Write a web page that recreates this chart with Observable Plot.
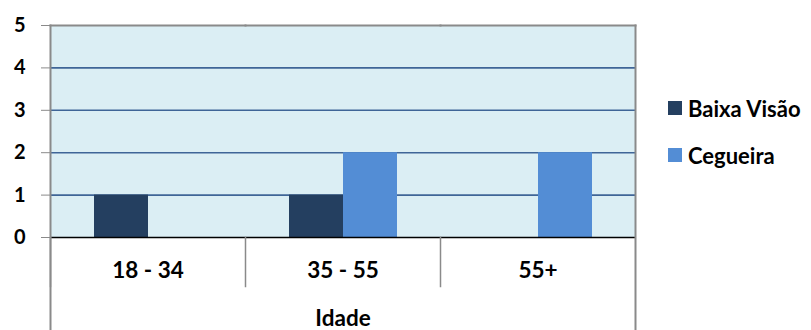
<!DOCTYPE html>
<html>
<head>
<meta charset="utf-8">
<script src="https://cdn.jsdelivr.net/npm/d3@7"></script>
<script src="https://cdn.jsdelivr.net/npm/@observablehq/plot@0.6"></script>
<style>
  html, body { margin: 0; padding: 0; background: #ffffff; }
  #wrap { position: relative; width: 811px; height: 330px; font-family: Lato, "Open Sans", sans-serif; }
  #legend { position: absolute; left: 668px; top: 96px; font-weight: 700; font-size: 22px; color: #000; }
  #legend .item { display: flex; align-items: center; height: 24px; margin-bottom: 23px; }
  #legend .sw { width: 14px; height: 14px; margin-right: 6px; }
</style>
</head>
<body>
<div id="wrap"><div id="legend"></div></div>
<script>
const groups = ["18 - 34", "35 - 55", "55+"];
const series = ["Baixa Visão", "Cegueira"];
const baixaVisao = [1, 1, 0];
const cegueira = [0, 2, 2];
const colors = ["#243F60", "#538DD5"];
const yTicks = [0, 1, 2, 3, 4, 5];
const axisTitle = "Idade";

const data = [];
groups.forEach((g, i) => {
  data.push({group: g, series: series[0], value: baixaVisao[i]});
  data.push({group: g, series: series[1], value: cegueira[i]});
});

const border = "#8A8A8A";
const chart = Plot.plot({
  width: 811,
  height: 330,
  marginLeft: 49,
  marginRight: 175,
  marginTop: 25,
  marginBottom: 93,
  style: {fontFamily: "Lato, 'Open Sans', sans-serif", background: "transparent"},
  fx: {domain: groups, padding: 0, label: null},
  x: {domain: series, paddingInner: 0, paddingOuter: 0.779, axis: null},
  y: {domain: [0, 5], label: null},
  color: {domain: series, range: colors},
  marks: [
    Plot.frame({fill: "#DBEEF4", stroke: null, shapeRendering: "crispEdges"}),
    Plot.ruleY([1, 2, 3, 4], {stroke: "#3F6597", strokeWidth: 1.6}),
    Plot.frame({anchor: "top", stroke: border, strokeWidth: 2}),
    Plot.barY(data, {filter: d => d.value > 0, fx: "group", x: "series", y: "value", fill: "series", insetLeft: 0, insetRight: 0}),
    Plot.ruleY([0], {stroke: "#000", strokeWidth: 1.5}),
    Plot.frame({anchor: "left", insetTop: 212, insetBottom: -49, stroke: border, strokeWidth: 1.5}),
    Plot.frame({anchor: "left", insetBottom: -93, stroke: border, strokeWidth: 2, fx: () => groups[0]}),
    Plot.frame({anchor: "right", insetBottom: -93, stroke: border, strokeWidth: 2, fx: () => groups[2]}),
    Plot.axisY({ticks: yTicks, tickFormat: d => String(d), tickSize: 9, tickPadding: 16, stroke: border, fontSize: 20, fontWeight: 700, fill: "#000", label: null}),
    Plot.axisFx({anchor: "bottom", tickSize: 0, tickPadding: 25, fontSize: 22.5, fontWeight: 700, fill: "#000",
      label: axisTitle, labelAnchor: "center", labelOffset: 88, labelArrow: false})
  ]
});
const wrap = document.getElementById("wrap");
wrap.insertBefore(chart, wrap.firstChild);
chart.style.position = "absolute";
chart.style.left = "0";
chart.style.top = "0";

const legend = document.getElementById("legend");
series.forEach((s, i) => {
  const item = document.createElement("div");
  item.className = "item";
  const sw = document.createElement("span");
  sw.className = "sw";
  sw.style.background = colors[i];
  const t = document.createElement("span");
  t.textContent = s;
  item.appendChild(sw);
  item.appendChild(t);
  legend.appendChild(item);
});
</script>
</body>
</html>
